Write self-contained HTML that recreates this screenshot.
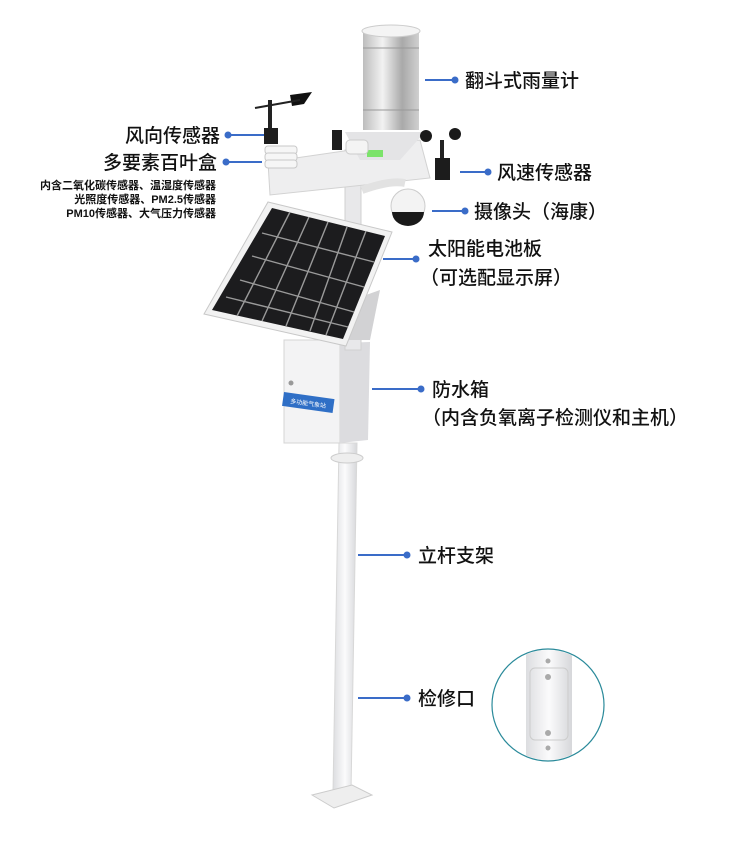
<!DOCTYPE html>
<html><head><meta charset="utf-8"><style>
html,body{margin:0;padding:0;background:#fff;}
svg{display:block;}
text{font-family:"Liberation Sans","Noto Sans CJK SC",sans-serif;fill:#111;}
</style></head><body>
<svg width="735" height="847" viewBox="0 0 735 847" xmlns="http://www.w3.org/2000/svg">
<defs>
<linearGradient id="steel" x1="0" x2="1"><stop offset="0" stop-color="#bdbdbd"/><stop offset=".35" stop-color="#f2f2f2"/><stop offset=".7" stop-color="#a9a9a9"/><stop offset="1" stop-color="#d0d0d0"/></linearGradient>
<linearGradient id="pole" x1="0" x2="1"><stop offset="0" stop-color="#dcdde0"/><stop offset=".5" stop-color="#fbfbfc"/><stop offset="1" stop-color="#d6d7da"/></linearGradient>
<clipPath id="circ"><circle cx="548" cy="705" r="55"/></clipPath>
</defs>
<polygon points="339,443 357,443 351,792 333,792" fill="url(#pole)" stroke="#d8d8d8"/>
<ellipse cx="347" cy="458" rx="16" ry="5" fill="#eee" stroke="#ccc"/>
<polygon points="312,795 352,785 372,795 334,808" fill="#eee" stroke="#ccc"/>
<rect x="284" y="340" width="56" height="103" fill="#f3f3f4" stroke="#d5d5d5"/>
<polygon points="340,343 370,342 368,440 340,443" fill="#dcdcdf"/>
<rect x="284" y="392" width="51" height="14" fill="#2f6fc6" transform="rotate(8 284 392)"/>
<text x="290" y="403" font-size="6" style="fill:#fff" transform="rotate(8 290 403)">多功能气象站</text>
<circle cx="291" cy="383" r="2.5" fill="#999"/>
<rect x="345" y="150" width="16" height="200" fill="#e8e8ea" stroke="#d0d0d0"/>
<polygon points="352,300 380,290 370,340 345,340" fill="#d2d2d4"/>
<polygon points="268,202 392,232 346,346 204,314" fill="#f2f2f2" stroke="#c8c8c8"/>
<polygon points="272,208 385,236 343,339 212,310" fill="#1c1c1e"/>
<g stroke="#9a9a9a" stroke-width="1.4">
<line x1="290" y1="212" x2="237" y2="316"/><line x1="309" y1="217" x2="262" y2="321"/><line x1="328" y1="222" x2="286" y2="326"/><line x1="347" y1="227" x2="310" y2="331"/><line x1="366" y1="231" x2="326" y2="335"/>
<line x1="262" y1="233" x2="374" y2="262"/><line x1="252" y1="256" x2="364" y2="287"/><line x1="240" y1="280" x2="354" y2="312"/><line x1="226" y1="297" x2="348" y2="327"/>
</g>
<polygon points="268,162 420,140 430,178 270,195" fill="#eeeeef" stroke="#d2d2d2"/>
<polygon points="345,132 425,132 400,160 360,160" fill="#e4e4e6"/>
<rect x="367" y="150" width="16" height="7" fill="#7be36a"/>
<rect x="363" y="30" width="56" height="100" fill="url(#steel)"/>
<ellipse cx="391" cy="31" rx="29" ry="6" fill="#f4f4f4" stroke="#ccc"/>
<line x1="363" y1="48" x2="419" y2="48" stroke="#999"/><line x1="363" y1="110" x2="419" y2="110" stroke="#999"/>
<rect x="268" y="100" width="4" height="30" fill="#222"/>
<polygon points="290,95 312,92 304,104 292,106" fill="#111"/>
<line x1="255" y1="108" x2="300" y2="100" stroke="#222" stroke-width="2"/>
<rect x="264" y="128" width="14" height="16" fill="#1e1e1e"/>
<rect x="332" y="130" width="10" height="20" fill="#1e1e1e"/>
<g fill="#f6f6f6" stroke="#c8c8c8"><rect x="265" y="146" width="32" height="8" rx="3"/><rect x="265" y="153" width="32" height="8" rx="3"/><rect x="265" y="160" width="32" height="8" rx="3"/></g>
<rect x="346" y="140" width="22" height="14" rx="4" fill="#f4f4f4" stroke="#ccc"/>
<rect x="440" y="140" width="4" height="20" fill="#222"/>
<circle cx="426" cy="136" r="6" fill="#1a1a1a"/><circle cx="455" cy="134" r="6" fill="#1a1a1a"/>
<rect x="435" y="158" width="15" height="22" fill="#1c1c1c"/>
<path d="M362,190 Q390,180 405,183" stroke="#e2e2e2" stroke-width="8" fill="none"/>
<circle cx="408" cy="206" r="17" fill="#f3f3f3" stroke="#ccc"/>
<path d="M392,212 A16,14 0 0 0 424,212 Z" fill="#1a1a1a"/>
<circle cx="548" cy="705" r="56" fill="#fff" stroke="#2a8a9a" stroke-width="1.2"/>
<g clip-path="url(#circ)">
<rect x="526" y="640" width="46" height="130" fill="url(#pole)"/>
<rect x="530" y="668" width="38" height="72" rx="5" fill="none" stroke="#ccc"/>
<circle cx="548" cy="661" r="2.5" fill="#aaa"/><circle cx="548" cy="677" r="3" fill="#aaa"/><circle cx="548" cy="733" r="3" fill="#aaa"/><circle cx="548" cy="748" r="2.5" fill="#aaa"/>
</g>
<g stroke="#3a6cc8" stroke-width="2">
<line x1="425" y1="80" x2="455" y2="80"/><line x1="228" y1="135" x2="264" y2="135"/><line x1="226" y1="162" x2="262" y2="162"/>
<line x1="460" y1="172" x2="488" y2="172"/><line x1="432" y1="211" x2="465" y2="211"/><line x1="383" y1="259" x2="416" y2="259"/>
<line x1="372" y1="389" x2="421" y2="389"/><line x1="358" y1="555" x2="407" y2="555"/><line x1="358" y1="698" x2="407" y2="698"/>
</g>
<g fill="#3a6cc8">
<circle cx="455" cy="80" r="3.5"/><circle cx="228" cy="135" r="3.5"/><circle cx="226" cy="162" r="3.5"/><circle cx="488" cy="172" r="3.5"/><circle cx="465" cy="211" r="3.5"/><circle cx="416" cy="259" r="3.5"/><circle cx="421" cy="389" r="3.5"/><circle cx="407" cy="555" r="3.5"/><circle cx="407" cy="698" r="3.5"/>
</g>
<g font-size="19" font-weight="500">
<text x="465" y="87">翻斗式雨量计</text>
<text x="220" y="142" text-anchor="end">风向传感器</text>
<text x="217" y="169" text-anchor="end">多要素百叶盒</text>
<text x="497" y="179">风速传感器</text>
<text x="474" y="218">摄像头（海康）</text>
<text x="428" y="255">太阳能电池板</text>
<text x="420" y="284">（可选配显示屏）</text>
<text x="432" y="396">防水箱</text>
<text x="422" y="424">（内含负氧离子检测仪和主机）</text>
<text x="418" y="562">立杆支架</text>
<text x="418" y="705">检修口</text>
</g>
<g font-size="11" font-weight="bold" text-anchor="end">
<text x="216" y="189">内含二氧化碳传感器、温湿度传感器</text>
<text x="216" y="203">光照度传感器、PM2.5传感器</text>
<text x="216" y="217">PM10传感器、大气压力传感器</text>
</g>
</svg>
</body></html>
